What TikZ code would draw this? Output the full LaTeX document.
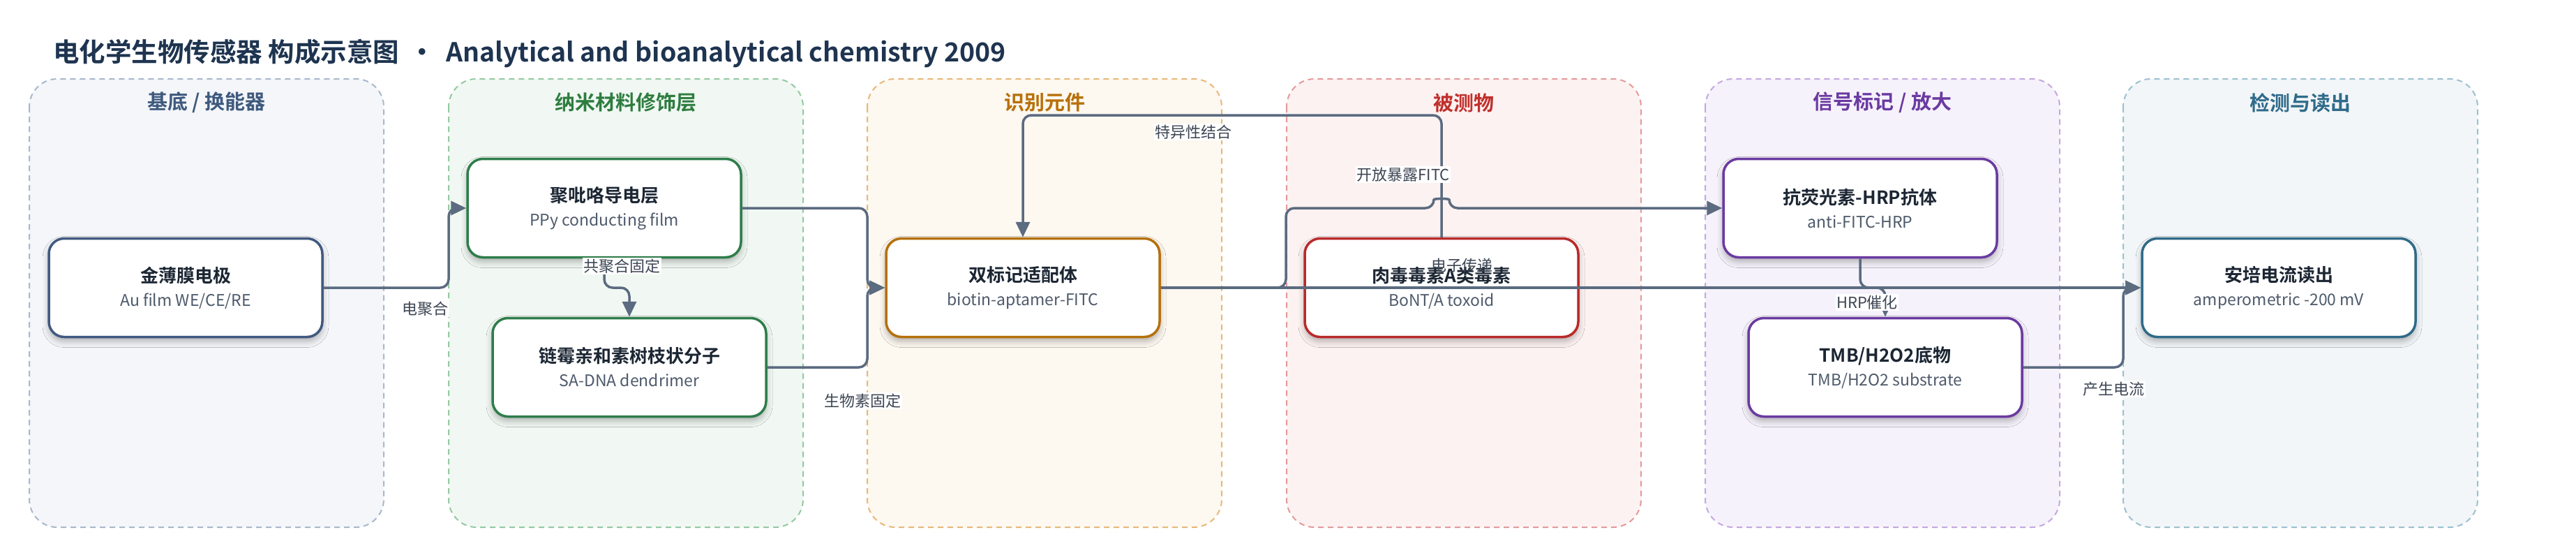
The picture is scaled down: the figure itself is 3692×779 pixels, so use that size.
\documentclass[tikz,border=0pt]{standalone}
\usepackage{fontspec}
\setmainfont{Noto Sans CJK SC}[BoldFont={Noto Sans CJK SC Bold}]
\usetikzlibrary{arrows.meta,shadows.blur}
\definecolor{titlec}{HTML}{1E3450}
\definecolor{cline}{HTML}{5B6B80}
\definecolor{labc}{HTML}{3D4654}
\definecolor{ttlc}{HTML}{1C2633}
\definecolor{subc}{HTML}{4E5A6B}
\definecolor{lfA}{HTML}{F4F6FA}\definecolor{lbA}{HTML}{A9B8CC}\definecolor{hA}{HTML}{3F5A7E}\definecolor{nA}{HTML}{41597F}
\definecolor{lfB}{HTML}{F1F8F3}\definecolor{lbB}{HTML}{94C9A2}\definecolor{hB}{HTML}{2E7D40}\definecolor{nB}{HTML}{2E7D4A}
\definecolor{lfC}{HTML}{FDF8F0}\definecolor{lbC}{HTML}{E8B878}\definecolor{hC}{HTML}{B8700A}\definecolor{nC}{HTML}{B5700C}
\definecolor{lfD}{HTML}{FDF2F2}\definecolor{lbD}{HTML}{E39A9A}\definecolor{hD}{HTML}{C0302C}\definecolor{nD}{HTML}{B82A2A}
\definecolor{lfE}{HTML}{F6F2FB}\definecolor{lbE}{HTML}{C4A8E0}\definecolor{hE}{HTML}{6A3AA2}\definecolor{nE}{HTML}{6A3AA0}
\definecolor{lfF}{HTML}{F2F6F8}\definecolor{lbF}{HTML}{9CC0D0}\definecolor{hF}{HTML}{2F6B8A}\definecolor{nF}{HTML}{2F6A88}
\begin{document}
\begin{tikzpicture}[x=1pt,y=-1pt,
  lane/.style={draw=#1, line width=2pt, dash pattern=on 8pt off 6pt, rounded corners=40pt},
  lanehead/.style={text=#1, font=\bfseries\fontsize{29}{32}\selectfont, anchor=center},
  box/.style={draw=#1, line width=3.5pt, fill=white, rounded corners=22pt,
    minimum width=392pt, minimum height=141pt, inner sep=0pt, align=center,
    font=\fontsize{23}{34}\selectfont,
    blur shadow={shadow xshift=0pt, shadow yshift=-6pt, shadow blur radius=9pt, shadow opacity=30}},
  conn/.style={draw=cline, line width=3.5pt, rounded corners=12pt},
  arr/.style={-{Triangle[length=22pt,width=20pt]}},
  lbl/.style={fill=white, inner sep=1.5pt, text=labc, font=\fontsize{22}{24}\selectfont},
]
\newcommand{\bx}[2]{{\fontsize{26}{34}\selectfont\bfseries\color{ttlc}#1}\\{\color{subc}#2}}
\useasboundingbox (0,0) rectangle (3692,779);
\fill[white] (0,0) rectangle (3692,779);
% title
\node[anchor=west, text=titlec, font=\bfseries\fontsize{37.5}{40}\selectfont, inner sep=0pt] (title) at (76,77)
  {电化学生物传感器 构成示意图 \,•\, Analytical and bioanalytical chemistry 2009};
% lanes
\fill[lfA] (42,113) [rounded corners=40pt] rectangle (550,755);
\draw[lane=lbA] (42,113) rectangle (550,755);
\fill[lfB] (643,113) [rounded corners=40pt] rectangle (1151,755);
\draw[lane=lbB] (643,113) rectangle (1151,755);
\fill[lfC] (1243,113) [rounded corners=40pt] rectangle (1751,755);
\draw[lane=lbC] (1243,113) rectangle (1751,755);
\fill[lfD] (1844,113) [rounded corners=40pt] rectangle (2352,755);
\draw[lane=lbD] (1844,113) rectangle (2352,755);
\fill[lfE] (2444,113) [rounded corners=40pt] rectangle (2952,755);
\draw[lane=lbE] (2444,113) rectangle (2952,755);
\fill[lfF] (3043,113) [rounded corners=40pt] rectangle (3551,755);
\draw[lane=lbF] (3043,113) rectangle (3551,755);
\node[lanehead=hA] (hdA) at (296,147) {基底 / 换能器};
\node[lanehead=hB] (hdB) at (897,147) {纳米材料修饰层};
\node[lanehead=hC] (hdC) at (1497,147) {识别元件};
\node[lanehead=hD] (hdD) at (2098,147) {被测物};
\node[lanehead=hE] (hdE) at (2698,147) {信号标记 / 放大};
\node[lanehead=hF] (hdF) at (3297,147) {检测与读出};
% nodes
\node[box=nA] (au) at (266,412) {\bx{金薄膜电极}{Au film WE/CE/RE}};
\node[box=nB] (ppy) at (866,298) {\bx{聚吡咯导电层}{PPy conducting film}};
\node[box=nB] (sa) at (902,526) {\bx{链霉亲和素树枝状分子}{SA-DNA dendrimer}};
\node[box=nC] (apt) at (1466,412) {\bx{双标记适配体}{biotin-aptamer-FITC}};
\node[box=nD] (tox) at (2066,412) {\bx{肉毒毒素A类毒素}{BoNT/A toxoid}};
\node[box=nE] (anti) at (2666,298) {\bx{抗荧光素-HRP抗体}{anti-FITC-HRP}};
\node[box=nE] (tmb) at (2702,526) {\bx{TMB/H2O2底物}{TMB/H2O2 substrate}};
\node[box=nF] (amp) at (3266,412) {\bx{安培电流读出}{amperometric -200 mV}};
% connectors
\draw[conn,arr] (au.east) -- (643,412) -- (643,298) -- (ppy.west);
\draw[conn,arr] (ppy.south) -- (866,412) -- (902,412) -- (sa.north);
\draw[conn,arr] (ppy.east) -- (1243,298) -- (1243,412) -- (apt.west);
\draw[conn,arr] (sa.east) -- (1243,526) -- (1243,412) -- (apt.west);
\draw[conn,arr] (tox.north) -- (2066,165) -- (1466,165) -- (apt.north);
\draw[conn,arr] (apt.east) -- (1843,412) -- (1843,298) -- (2055,298)
   .. controls (2055,284) and (2077,284) .. (2077,298) -- (anti.west);
\draw[conn,arr] (apt.east) -- (amp.west);
\draw[conn,arr] (anti.south) -- (2666,412) -- (2702,412) -- (tmb.north);
\draw[conn,arr] (tmb.east) -- (3043,526) -- (3043,412) -- (amp.west);
% labels
\node[lbl] (l1) at (609,442) {电聚合};
\node[lbl] (l2) at (891,381) {共聚合固定};
\node[lbl] (l3) at (1236,574) {生物素固定};
\node[lbl] (l4) at (1710,189) {特异性结合};
\node[lbl] (l5) at (2011,250) {开放暴露FITC};
\node[text=labc, font=\fontsize{22}{24}\selectfont, inner sep=0pt] (l6) at (2095,380) {电子传递};
\node[lbl] (l7) at (2676,433) {HRP催化};
\node[lbl] (l8) at (3029,557) {产生电流};
\end{tikzpicture}
\end{document}
